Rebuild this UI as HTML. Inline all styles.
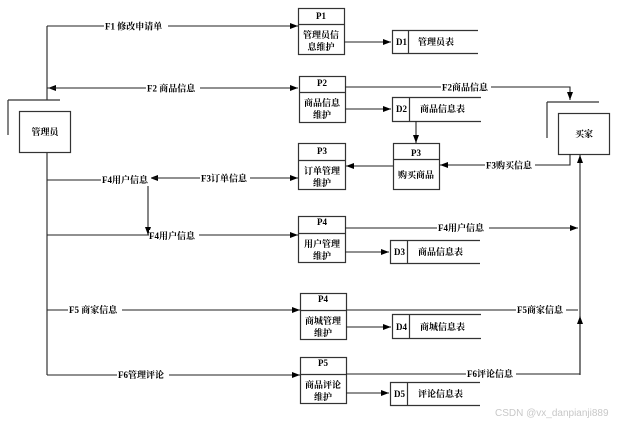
<!DOCTYPE html>
<html><head><meta charset="utf-8"><style>
html,body{margin:0;padding:0;background:#fff;}
svg{display:block;}
text{font-family:"Liberation Serif","Noto Serif CJK SC","Noto Sans CJK SC",serif;font-size:9px;fill:#000;}
.b{font-weight:bold;}
</style></head><body>
<svg width="625" height="423" viewBox="0 0 625 423" xmlns="http://www.w3.org/2000/svg">
<defs><marker id="a" markerWidth="8" markerHeight="6" refX="8" refY="3" orient="auto" markerUnits="userSpaceOnUse"><path d="M0,0 L8,3 L0,6 z" fill="#000"/></marker></defs>
<g stroke="#333" stroke-width="1.2" fill="none">
<!-- admin -->
<rect x="19.5" y="111.5" width="51" height="41" fill="#fff"/>
<path d="M8,100 H60 M8,100 V135"/>
<path d="M47,26 V100 M47,152 V375"/>
<!-- buyer -->
<rect x="558.5" y="113.5" width="51" height="41" fill="#fff"/>
<path d="M547,102 H599 M547,102 V138"/>
<!-- processes -->
<rect x="298.5" y="8.5" width="46" height="46"/><path d="M298,24.5 H345"/>
<rect x="299.5" y="76.5" width="46" height="46"/><path d="M299,92.5 H346"/>
<rect x="298.5" y="143.5" width="47" height="46"/><path d="M298,160.5 H346"/>
<rect x="393.5" y="143.5" width="46" height="46"/><path d="M393,159.5 H440"/>
<rect x="298.5" y="216.5" width="47" height="46"/><path d="M298,233.5 H346"/>
<rect x="300.5" y="293.5" width="46" height="46"/><path d="M300,310.5 H347"/>
<rect x="300.5" y="357.5" width="46" height="46"/><path d="M300,374.5 H347"/>
<!-- data stores -->
<path d="M478,30.5 H392.5 V53.5 H478 M408.5,30 V54"/>
<path d="M481,97.5 H392.5 V121.5 H481 M409.5,97 V122"/>
<path d="M480,240.5 H390.5 V263.5 H480 M407.5,240 V264"/>
<path d="M481,314.5 H392.5 V338.5 H481 M409.5,314 V339"/>
<path d="M480,382.5 H390.5 V405.5 H480 M407.5,382 V406"/>
</g>
<g stroke="#222" stroke-width="1.1" fill="none" marker-end="url(#a)">
<path d="M47,26 H298"/>
<path d="M298,88 H48"/>
<path d="M47,88 H298"/>
<path d="M345,87 H570 V100"/>
<path d="M344,42 H391"/>
<path d="M345,109 H391"/>
<path d="M416,121 V143"/>
<path d="M393,166 H346"/>
<path d="M570,154 V165 H440"/>
<path d="M298,178 H150"/>
<path d="M150,178 H298"/>
<path d="M47,180 H150"/>
<path d="M148,184 V235"/>
<path d="M47,235 H298"/>
<path d="M345,228 H578"/>
<path d="M345,252 H389"/>
<path d="M47,310 H300"/>
<path d="M346,327 H391"/>
<path d="M47,375 H300"/>
<path d="M346,393 H389"/>
<path d="M580,375 V155"/>
<path d="M346,374 H580 V316"/>
</g>
<path d="M346,310 H578" stroke="#222" stroke-width="1.1"/>
<g class="b">
<rect x="104" y="20" width="64" height="12" fill="#fff"/><text x="105" y="29.5">F1 修改申请单</text>
<rect x="146" y="82" width="54" height="12" fill="#fff"/><text x="147" y="91.5">F2 商品信息</text>
<rect x="441" y="81" width="50" height="12" fill="#fff"/><text x="442" y="90.5">F2商品信息</text>
<rect x="485" y="160" width="50" height="12" fill="#fff"/><text x="486" y="168.5">F3购买信息</text>
<rect x="200" y="173" width="50" height="12" fill="#fff"/><text x="201" y="181.5">F3订单信息</text>
<rect x="101" y="174" width="50" height="12" fill="#fff"/><text x="102" y="183">F4用户信息</text>
<rect x="149" y="230" width="50" height="12" fill="#fff"/><text x="149" y="239">F4用户信息</text>
<rect x="437" y="222" width="52" height="12" fill="#fff"/><text x="438" y="231">F4用户信息</text>
<rect x="68" y="304" width="54" height="12" fill="#fff"/><text x="69" y="313">F5 商家信息</text>
<rect x="516" y="304" width="50" height="12" fill="#fff"/><text x="517" y="313">F5商家信息</text>
<rect x="117" y="369" width="52" height="12" fill="#fff"/><text x="118" y="378">F6管理评论</text>
<rect x="466" y="368" width="50" height="12" fill="#fff"/><text x="467" y="377">F6评论信息</text>
<text x="321" y="19" text-anchor="middle">P1</text>
<text x="322" y="86" text-anchor="middle">P2</text>
<text x="322" y="154" text-anchor="middle">P3</text>
<text x="416" y="156" text-anchor="middle">P3</text>
<text x="322" y="225" text-anchor="middle">P4</text>
<text x="323" y="302" text-anchor="middle">P4</text>
<text x="323" y="366" text-anchor="middle">P5</text>
<text x="321" y="38" text-anchor="middle">管理员信</text><text x="321" y="50" text-anchor="middle">息维护</text>
<text x="322" y="106" text-anchor="middle">商品信息</text><text x="322" y="118" text-anchor="middle">维护</text>
<text x="322" y="174" text-anchor="middle">订单管理</text><text x="322" y="186" text-anchor="middle">维护</text>
<text x="416" y="178" text-anchor="middle">购买商品</text>
<text x="322" y="247" text-anchor="middle">用户管理</text><text x="322" y="259" text-anchor="middle">维护</text>
<text x="323" y="324" text-anchor="middle">商城管理</text><text x="323" y="336" text-anchor="middle">维护</text>
<text x="323" y="388" text-anchor="middle">商品评论</text><text x="323" y="400" text-anchor="middle">维护</text>
<text x="396" y="45">D1</text><text x="418" y="45">管理员表</text>
<text x="396" y="112">D2</text><text x="420" y="112">商品信息表</text>
<text x="394" y="255">D3</text><text x="418" y="255">商品信息表</text>
<text x="396" y="330">D4</text><text x="420" y="330">商城信息表</text>
<text x="394" y="397">D5</text><text x="418" y="397">评论信息表</text>
<text x="45" y="135" text-anchor="middle">管理员</text>
<text x="584" y="137" text-anchor="middle">买家</text>
</g>
<text x="495" y="416" style="font-family:'Liberation Sans','Noto Sans CJK SC',sans-serif;font-size:10px;fill:#c8c8c8">CSDN @vx_danpianji889</text>
</svg>
</body></html>
